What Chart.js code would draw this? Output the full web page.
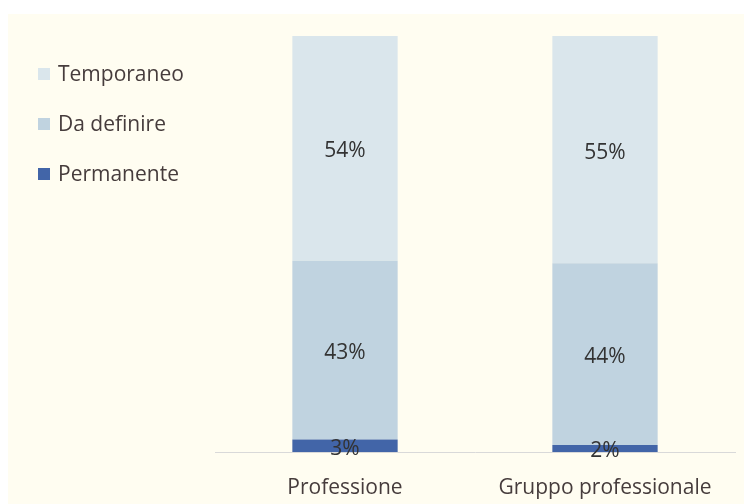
<!DOCTYPE html>
<html>
<head>
<meta charset="utf-8">
<script src="https://cdn.jsdelivr.net/npm/chart.js@4/dist/chart.umd.min.js"></script>
<style>
  html, body { margin: 0; padding: 0; background: #ffffff; }
  #wrap { position: absolute; left: 0; top: 0; width: 745px; height: 504px; }
</style>
</head>
<body>
<div id="wrap"><canvas id="chart" width="745" height="504"></canvas></div>
<script>
// categories and series (percent shares, 100% stacked)
const categories = ['Professione', 'Gruppo professionale'];
const permanente = [3, 1.7];
const daDefinire = [43, 43.7];
const temporaneo = [54, 54.6];

const FONT = '"Open Sans", sans-serif';
const TEXT = '#463c3c';

// cream panel behind the chart
const panelBg = {
    id: 'panelBg',
    beforeDraw(chart) {
        const ctx = chart.ctx;
        ctx.save();
        ctx.fillStyle = '#fffdf1';
        ctx.fillRect(8, 14, chart.width - 9, chart.height - 14);
        ctx.restore();
    }
};

// value labels centred in every segment
const valueLabels = {
    id: 'valueLabels',
    afterDatasetsDraw(chart) {
        const ctx = chart.ctx;
        ctx.save();
        ctx.font = '21px ' + FONT;
        ctx.fillStyle = '#333333';
        ctx.textAlign = 'center';
        ctx.textBaseline = 'middle';
        chart.data.datasets.forEach((ds, i) => {
            chart.getDatasetMeta(i).data.forEach((bar, j) => {
                const p = bar.getProps(['x', 'y', 'base'], true);
                ctx.fillText(Math.round(ds.data[j]) + '%', p.x, (p.y + p.base) / 2 + 3);
            });
        });
        ctx.restore();
    }
};

// legend on the left, top-down in reverse stack order
const sideLegend = {
    id: 'sideLegend',
    afterDraw(chart) {
        const ctx = chart.ctx;
        const ds = chart.data.datasets.slice().reverse();
        ctx.save();
        ctx.font = '21px ' + FONT;
        ctx.textBaseline = 'middle';
        ds.forEach((d, i) => {
            const y = 74 + i * 50;
            ctx.fillStyle = d.backgroundColor;
            ctx.fillRect(38, y - 6, 12, 12);
            ctx.fillStyle = TEXT;
            ctx.fillText(d.label, 58, y + 1);
        });
        ctx.restore();
    }
};

const ctx = document.getElementById('chart').getContext('2d');
const chart = new Chart(ctx, {
    type: 'bar',
    data: {
        labels: categories,
        datasets: [
            { label: 'Permanente', data: permanente, backgroundColor: '#4265a8' },
            { label: 'Da definire', data: daDefinire, backgroundColor: '#c0d3e0' },
            { label: 'Temporaneo', data: temporaneo, backgroundColor: '#dae6ec' }
        ]
    },
    options: {
        responsive: false,
        animation: false,
        layout: { padding: { left: 215, right: 10, top: 36, bottom: 0 } },
        datasets: { bar: { categoryPercentage: 0.81, barPercentage: 0.5 } },
        plugins: {
            legend: { display: false },
            tooltip: { enabled: false }
        },
        scales: {
            x: {
                stacked: true,
                grid: { display: false },
                border: { display: true, color: '#d9d9d9', width: 1 },
                ticks: { color: TEXT, font: { family: FONT, size: 21 }, padding: 15 },
                afterFit(scale) { scale.height = 52; }
            },
            y: {
                stacked: true,
                display: false,
                min: 0,
                max: 100
            }
        }
    },
    plugins: [panelBg, valueLabels, sideLegend]
});
</script>
</body>
</html>
